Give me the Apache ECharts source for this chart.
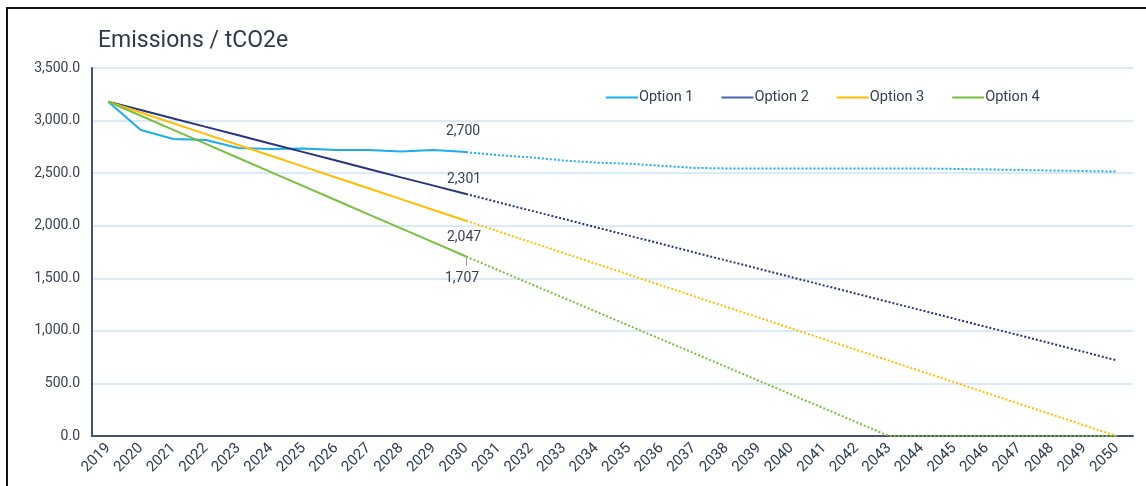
<!DOCTYPE html>
<html><head><meta charset="utf-8">
<script src="https://cdn.jsdelivr.net/npm/echarts@6/dist/echarts.min.js"></script>
<style>html,body{margin:0;padding:0;background:#fff}#c{width:1146px;height:486px}</style>
</head><body><div id="c"></div>
<script>
const years = ['2019','2020','2021','2022','2023','2024','2025','2026','2027','2028','2029','2030','2031','2032','2033','2034','2035','2036','2037','2038','2039','2040','2041','2042','2043','2044','2045','2046','2047','2048','2049','2050'];
const yTicks = [0, 500, 1000, 1500, 2000, 2500, 3000, 3500];
const names = ['Option 1','Option 2','Option 3','Option 4'];
// actual / planned path 2019-2030
const opt1 = [3180,2910,2825,2815,2740,2730,2735,2720,2720,2705,2720,2700];
const opt2 = [3180,3100,3020,2940,2860,2780,2700,2620,2540,2460,2381,2301];
const opt3 = [3180,3077,2974,2871,2768,2665,2562,2459,2356,2253,2150,2047];
const opt4 = [3180,3046,2912,2778,2644,2510,2376,2242,2108,1975,1841,1707];
// projection 2030-2050
const proj1 = [2700,2670,2650,2620,2600,2590,2570,2550,2545,2545,2545,2545,2545,2545,2545,2540,2535,2530,2525,2520,2515];
const proj2 = [2301,2222,2143,2064,1985,1906,1827,1748,1669,1590,1511,1432,1353,1274,1195,1116,1037,958,879,800,720];
const proj3 = [2047,1945,1842,1740,1638,1535,1433,1330,1228,1126,1023,921,819,716,614,512,409,307,205,102,0];
const proj4 = [1707,1576,1444,1313,1182,1050,919,788,657,525,394,263,131,0,0,0,0,0,0,0,0];
const colors = ['#1aaee8','#26357f','#ffbd00','#78bf3e'];
const labelOffsets = [[-3,-21],[-2,-15],[-2,17],[-4,22]];
const solid = [opt1,opt2,opt3,opt4];
const proj = [proj1,proj2,proj3,proj4];
const series = [];
solid.forEach((arr,i)=>{
  const last = arr[arr.length-1];
  series.push({name:names[i], type:'line', data:arr, showSymbol:false, symbol:'none', color:colors[i],
    lineStyle:{width:2, color:colors[i]}, z:3,
    markPoint:{symbol:'circle', symbolSize:1, itemStyle:{color:'rgba(0,0,0,0)'},
      data:[{coord:[years[arr.length-1], last], value:last}],
      label:{show:true, position:'inside', offset:labelOffsets[i], formatter:(p)=>p.value.toLocaleString('en-US'),
        color:'#3a4150', fontSize:14, fontFamily:'Roboto'}}
  });
});
proj.forEach((arr,i)=>{
  const data = years.map((y,k)=> k<11 ? null : arr[k-11]);
  series.push({name:names[i]+' projection', type:'line', data:data, showSymbol:false, symbol:'none', color:colors[i],
    lineStyle:{width:2, color:colors[i], type:[2,2]}, z:2});
});
// small leader tick under the Option 4 label
series.push({name:'leader', type:'line', data:[], markLine:{silent:true, symbol:'none',
  lineStyle:{color:'#9a9a9a', width:1, type:'solid'}, label:{show:false},
  data:[[{coord:['2030',1707]},{coord:['2030',1620]}]]}});
const chart = echarts.init(document.getElementById('c'));
chart.setOption({
  animation:false,
  textStyle:{fontFamily:'Roboto'},
  title:{text:'Emissions / tCO2e', left:93, top:25, textStyle:{fontSize:23, fontWeight:'normal', color:'#2d3a4c', fontFamily:'Roboto'}},
  legend:{data:names.map((n,i)=>({name:n, icon:'rect', itemStyle:{color: i===1?'#4a62b3':colors[i]}})), left:601, top:85, itemWidth:32, itemHeight:2, itemGap:28,
    textStyle:{fontSize:14.5, color:'#333e50', fontFamily:'Roboto', padding:[0,0,0,-4]}},
  graphic:[{type:'rect', shape:{x:7,y:8,width:1160,height:500}, style:{fill:'none', stroke:'#111', lineWidth:2}, silent:true}],
  grid:{left:92, top:68, width:1041, height:368},
  xAxis:{type:'category', data:years, boundaryGap:true,
    axisLine:{lineStyle:{color:'#44546a', width:2}}, axisTick:{show:false},
    axisLabel:{rotate:45, fontSize:15, color:'#2d3a4c', margin:10, interval:0}},
  yAxis:{type:'value', min:yTicks[0], max:yTicks[yTicks.length-1], interval:500,
    axisLine:{show:true, lineStyle:{color:'#44546a', width:2}}, axisTick:{show:false},
    axisLabel:{fontSize:14, color:'#3a4150', margin:12, formatter:(v)=>v.toLocaleString('en-US',{minimumFractionDigits:1, maximumFractionDigits:1})},
    splitLine:{lineStyle:{color:'#cde5f7', width:1.5}}},
  series:series
});
</script></body></html>
